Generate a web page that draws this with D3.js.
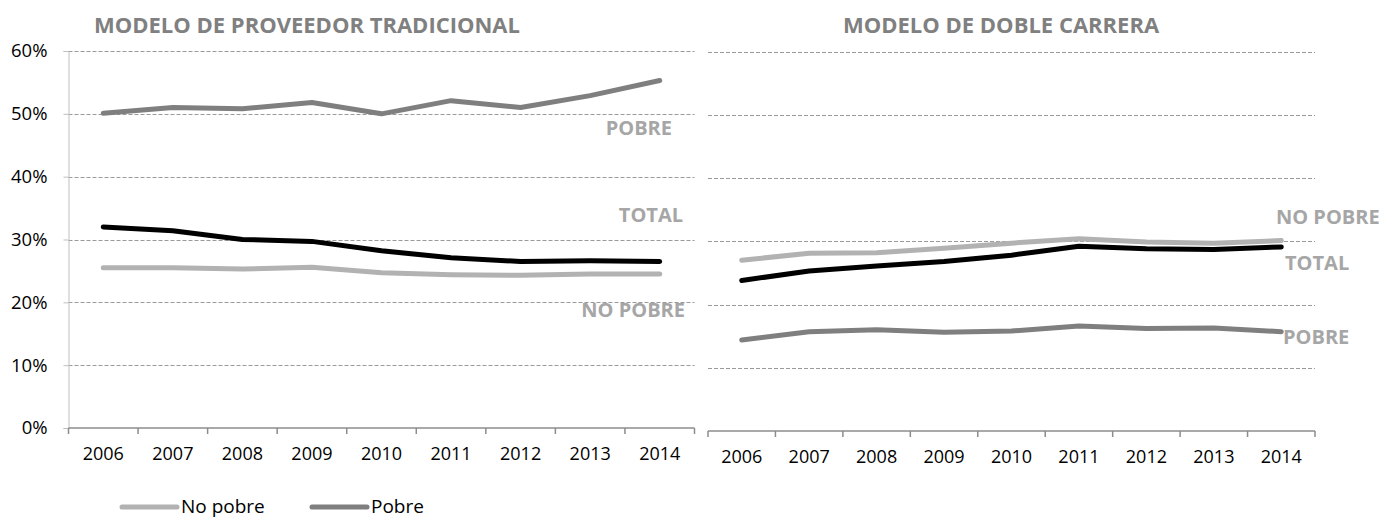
<!DOCTYPE html>
<html>
<head>
<meta charset="utf-8">
<script src="https://cdn.jsdelivr.net/npm/d3@7"></script>
<style>
  body { margin: 0; background: #fff; }
  svg { display: block; font-family: "Open Sans", sans-serif; }
</style>
</head>
<body>
<svg id="chart" width="1381" height="519"></svg>
<script>
// data (percent)
let years = ["2006", "2007", "2008", "2009", "2010", "2011", "2012", "2013", "2014"];
let yTicks = [0, 10, 20, 30, 40, 50, 60];

let noPobreTrad = [25.5, 25.5, 25.3, 25.6, 24.7, 24.4, 24.3, 24.5, 24.5];
let pobreTrad   = [50.1, 51.0, 50.8, 51.8, 50.0, 52.1, 51.0, 52.9, 55.3];
let totalTrad   = [32.0, 31.4, 30.0, 29.7, 28.2, 27.1, 26.5, 26.6, 26.5];

let noPobreDoble = [27.0, 28.1, 28.2, 28.9, 29.7, 30.4, 29.9, 29.7, 30.1];
let pobreDoble   = [14.4, 15.7, 16.0, 15.6, 15.8, 16.6, 16.2, 16.3, 15.7];
let totalDoble   = [23.8, 25.3, 26.1, 26.8, 27.8, 29.2, 28.8, 28.7, 29.1];

let legendNames = ["No pobre", "Pobre"];

let colors = { noPobre: "#b2b2b2", pobre: "#7f7f7f", total: "#000000", label: "#a6a6a6", title: "#808080" };

let svg = d3.select("#chart");

let panels = [
    {
        title: "MODELO DE PROVEEDOR TRADICIONAL", titleX: 94,
        x0: 68.5, x1: 694.5, yBottom: 428, yTop: 51, showYAxis: true,
        series: [
            { values: noPobreTrad, color: colors.noPobre },
            { values: pobreTrad, color: colors.pobre },
            { values: totalTrad, color: colors.total }
        ],
        labels: [
            { text: "POBRE", at: 47.7, x: 672, anchor: "end" },
            { text: "TOTAL", at: 34.0, x: 683, anchor: "end" },
            { text: "NO POBRE", at: 18.8, x: 685, anchor: "end" }
        ]
    },
    {
        title: "MODELO DE DOBLE CARRERA", titleX: 843,
        x0: 708, x1: 1315, yBottom: 431, yTop: 51.5, showYAxis: false,
        series: [
            { values: noPobreDoble, color: colors.noPobre },
            { values: pobreDoble, color: colors.pobre },
            { values: totalDoble, color: colors.total }
        ],
        labels: [
            { text: "NO POBRE", at: 33.9, x: 1276, anchor: "start" },
            { text: "TOTAL", at: 26.6, x: 1285, anchor: "start" },
            { text: "POBRE", at: 14.9, x: 1283, anchor: "start" }
        ]
    }
];

panels.forEach(function (p) {
    let g = svg.append("g");

    let x = d3.scaleBand().domain(years).range([p.x0, p.x1]);
    let y = d3.scaleLinear().domain([0, 60]).range([p.yBottom, p.yTop]);

    // dashed gridlines
    g.selectAll(".grid")
        .data(yTicks.filter(function (t) { return t > 0; }))
        .enter()
        .append("line")
        .attr("x1", p.x0)
        .attr("x2", p.x1)
        .attr("y1", function (d) { return Math.round(y(d)) + 0.5; })
        .attr("y2", function (d) { return Math.round(y(d)) + 0.5; })
        .attr("stroke", "#9a9a9a")
        .attr("stroke-dasharray", "4 2");

    if (p.showYAxis) {
        let yAxis = d3.axisLeft(y)
            .tickValues(yTicks)
            .tickSize(5)
            .tickPadding(16)
            .tickFormat(function (d) { return d + "%"; });
        let ya = g.append("g")
            .attr("transform", "translate(" + p.x0 + ",0)")
            .call(yAxis);
        ya.select(".domain").attr("stroke", "#bfbfbf");
        ya.selectAll(".tick line").attr("stroke", "#bfbfbf");
        ya.selectAll("text")
            .attr("font-size", 18.5)
            .attr("fill", "#000")
            .attr("font-family", "Open Sans");
    }

    // category axis: ticks between categories
    let xa = g.append("g")
        .attr("transform", "translate(0," + p.yBottom + ")")
        .call(d3.axisBottom(x).tickSize(0).tickPadding(19));
    xa.select(".domain").remove();
    xa.selectAll("text")
        .attr("font-size", 18)
        .attr("fill", "#000")
        .attr("font-family", "Open Sans");
    xa.append("line")
        .attr("x1", p.x0).attr("x2", p.x1)
        .attr("stroke", "#8c8c8c").attr("stroke-width", 1.5);
    xa.selectAll(".sep")
        .data(d3.range(years.length + 1))
        .enter()
        .append("line")
        .attr("x1", function (i) { return p.x0 + i * x.step(); })
        .attr("x2", function (i) { return p.x0 + i * x.step(); })
        .attr("y1", 0).attr("y2", 6)
        .attr("stroke", "#8c8c8c").attr("stroke-width", 1.5);

    let line = d3.line()
        .x(function (d, i) { return x(years[i]) + x.bandwidth() / 2; })
        .y(function (d) { return y(d); });

    g.selectAll(".series")
        .data(p.series)
        .enter()
        .append("path")
        .attr("d", function (s) { return line(s.values); })
        .attr("fill", "none")
        .attr("stroke", function (s) { return s.color; })
        .attr("stroke-width", 5)
        .attr("stroke-linecap", "round")
        .attr("stroke-linejoin", "round");

    g.selectAll(".lab")
        .data(p.labels)
        .enter()
        .append("text")
        .attr("x", function (d) { return d.x; })
        .attr("y", function (d) { return y(d.at); })
        .attr("dy", "0.36em")
        .attr("text-anchor", function (d) { return d.anchor; })
        .attr("font-size", 20)
        .attr("font-weight", "bold")
        .attr("fill", colors.label)
        .text(function (d) { return d.text; });

    g.append("text")
        .attr("x", p.titleX)
        .attr("y", 33)
        .attr("font-size", 22)
        .attr("font-weight", "bold")
        .attr("fill", colors.title)
        .text(p.title);
});

// legend
let legend = svg.append("g").attr("transform", "translate(122,507)");
let legendColors = [colors.noPobre, colors.pobre];
let items = legend.selectAll(".item")
    .data(legendNames)
    .enter()
    .append("g")
    .attr("transform", function (d, i) { return "translate(" + (i * 190) + ",0)"; });
items.append("line")
    .attr("x1", 0).attr("x2", 55)
    .attr("stroke", function (d, i) { return legendColors[i]; })
    .attr("stroke-width", 5)
    .attr("stroke-linecap", "round");
items.append("text")
    .attr("x", 59)
    .attr("dy", "0.3em")
    .attr("font-size", 19)
    .attr("fill", "#000")
    .text(function (d) { return d; });
</script>
</body>
</html>
